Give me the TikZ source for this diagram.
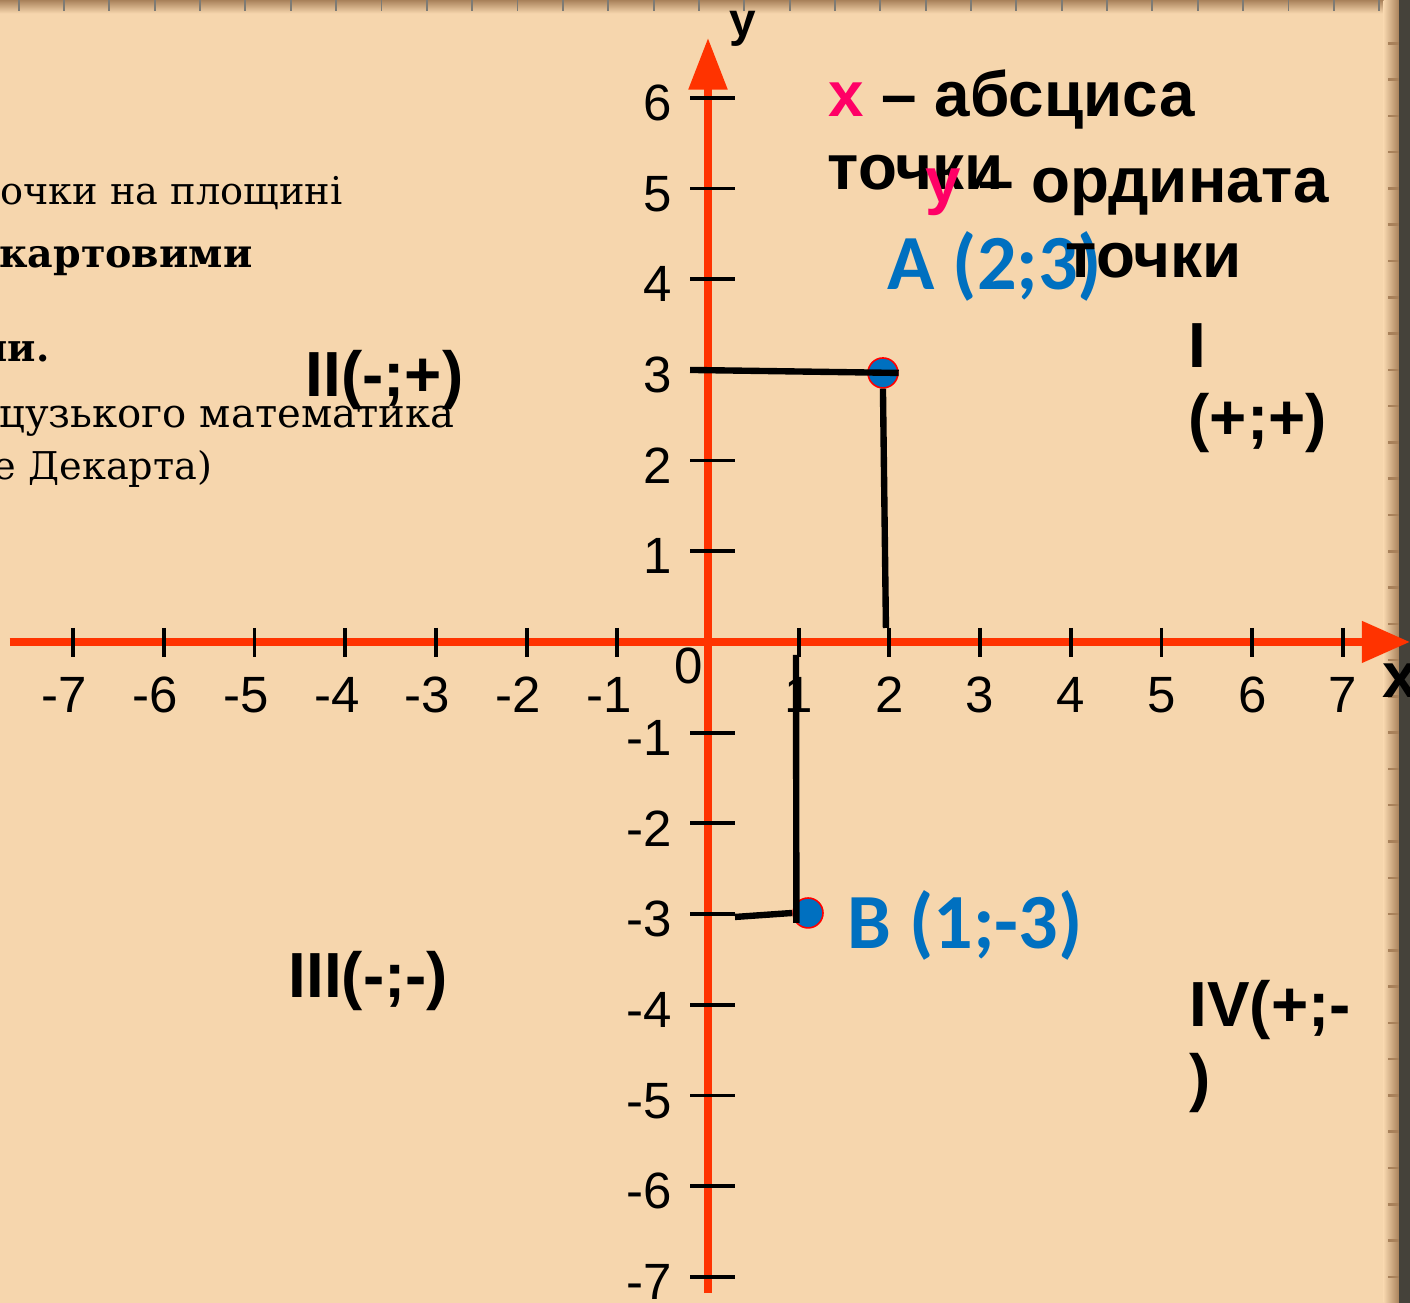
\documentclass[tikz,border=0pt]{standalone}
\usepackage{fontspec}
\setmainfont{Liberation Sans}
\newfontfamily\pointfont{Carlito}
\newfontfamily\notefont{DejaVu Serif}
\usepackage{tikz}
\usetikzlibrary{
arrows.meta,
positioning
}
\definecolor{KRDParch}{HTML}{F6D6AD}
\definecolor{KRDEdge}{HTML}{A8815A}
\definecolor{KRDDark}{HTML}{45423A}
\definecolor{KRDRed}{HTML}{FF3300}
\definecolor{KRDBlue}{HTML}{0070C0}
\definecolor{KRDPink}{HTML}{FF0066}
\tikzset{
krdaxis/.style={line width=2.5pt, draw=KRDRed},
krdtick/.style={line width=1.2pt, draw=black},
krdnum/.style={inner sep=0pt, font=\fontsize{16}{19}\selectfont},
krdproj/.style={line width=2pt, draw=black},
krdpoint/.style={circle, fill=KRDBlue, draw=red, line width=0.5pt,
  minimum size=3.3mm, inner sep=0pt},
krdpointlabel/.style={inner sep=0pt, anchor=base west, text=KRDBlue,
  font=\pointfont\bfseries\fontsize{24.5}{29}\selectfont},
krdquad/.style={inner sep=0pt, anchor=base west, font=\bfseries\fontsize{20}{24}\selectfont},
krdnote/.style={inner sep=0pt, anchor=base east, font=\notefont\fontsize{12}{15}\selectfont}
}

\begin{document}
\begin{tikzpicture}
% parchment sheet
\fill[KRDParch] (-7.806,-7.288) rectangle (7.74,7.078);
\useasboundingbox (-7.806,-7.288) rectangle (7.74,7.078);
\shade[top color=KRDEdge, bottom color=KRDParch] (-7.806,6.93) rectangle (7.74,7.078);
\shade[left color=KRDParch, right color=KRDEdge] (7.45,-7.288) rectangle (7.62,7.078);
\fill[KRDDark] (7.62,-7.288) rectangle (7.74,7.078);
\foreach \x in {-7.6,-7.1,...,7.4}
\draw[KRDDark!70, line width=0.6pt] (\x,7.078) -- ++(0,-0.12);
\foreach \y in {-7,-6.6,...,6.8}
\draw[KRDEdge, line width=0.8pt] (7.62,\y) -- ++(-0.12,0);

% text of the slide, cut at the left edge
\node[krdnote] (n1) at (-4.024,4.818) {очки на площині};
\node[krdnote, font=\notefont\bfseries\fontsize{12.4}{15}\selectfont] (n2) at (-5.017,4.123) {картовими};
\node[krdnote] (n3) at (-7.255,3.087) {\bfseries ми.};
\node[krdnote, font=\notefont\fontsize{12.6}{15}\selectfont] (n4) at (-2.789,2.359) {цузького математика};
\node[krdnote] (n5) at (-5.458,1.786) {е Декарта)};

% quarters
\node[krdquad] (q2) at (-4.443,2.701) {II(-;+)};
\node[krdquad] (q3) at (-4.631,-3.925) {III(-;-)};
\node[krdquad] (q1) at (5.292,3.021) {I};
\node[krdquad] (q1s) at (5.292,2.227) {(+;+)};
\node[krdquad] (q4) at (5.303,-4.245) {IV(+;-};
\node[krdquad] (q4s) at (5.303,-5.050) {)};

% axes
\coordinate (xs) at (-7.70,0);
\coordinate (xe) at (7.74,0);
\coordinate (ys) at (0,-7.18);
\coordinate (ye) at (0,6.66);
\draw[krdaxis, -{Triangle[length=5.3mm, width=4.4mm]}] (xs) -- (xe);
\draw[krdaxis, -{Triangle[length=5.7mm, width=4.1mm]}] (ys) -- (ye);
\foreach \i in {-7,...,7}{
\ifnum\i=0\else
\draw[krdtick] (\i,0.154) -- (\i,-0.165);
\ifnum\i<7 \draw[krdtick] (-0.198,\i) -- (0.298,\i);\fi
\fi
}
\foreach \i in {1,...,7}{
\node[krdnum, anchor=base] (xlp\i) at (\i,-0.78) {\i};
\node[krdnum, anchor=base] (xln\i) at (-\i,-0.78) {\llap{-}\i};
\node[krdnum, anchor=base east] (yln\i) at (-0.386,-\i-0.25) {-\i};
}
\foreach \i in {1,...,6}
\node[krdnum, anchor=base east] (ylp\i) at (-0.386,\i-0.25) {\i};
\node[krdnum, anchor=base] (orig) at (-0.21,-0.46) {0};
\node[inner sep=0pt, anchor=base, font=\bfseries\fontsize{15}{18}\selectfont] (ylab) at (0.386,6.67) {у};
\node[krdquad] (xlab) at (7.43,-0.617) {х};

% points and their coordinates
\node[krdpoint] (A) at (1.929,2.966) {};
\node[krdpoint] (B) at (1.103,-2.988) {};
\coordinate (Ay) at (-0.198,2.999);
\coordinate (Ax) at (1.962,0.154);
\coordinate (Bx) at (0.970,-0.143);
\coordinate (Bb) at (0.975,-3.098);
\coordinate (By) at (0.298,-3.032);
\draw[krdproj] (Ay) -- (A.east);
\draw[krdproj] (A.south) -- (Ax);
\draw[krdproj] (Bx) -- (Bb);
\draw[krdproj] (By) -- (B.west);
\node[krdpointlabel] (Alab) at (1.974,3.881) {A (2;3)};
\node[krdpointlabel] (Blab) at (1.533,-3.385) {B (1;-3)};

% abscissa and ordinate
\node[krdquad] (absc) at (1.323,5.788) {\textcolor{KRDPink}{х} – абсциса};
\node[krdquad] (abscb) at (1.312,4.983) {точки};
\node[krdquad] (ordn) at (2.393,4.840) {\textcolor{KRDPink}{у} – ордината};
\node[krdquad] (ordnb) at (3.936,4.013) {точки};
\end{tikzpicture}
\end{document}
